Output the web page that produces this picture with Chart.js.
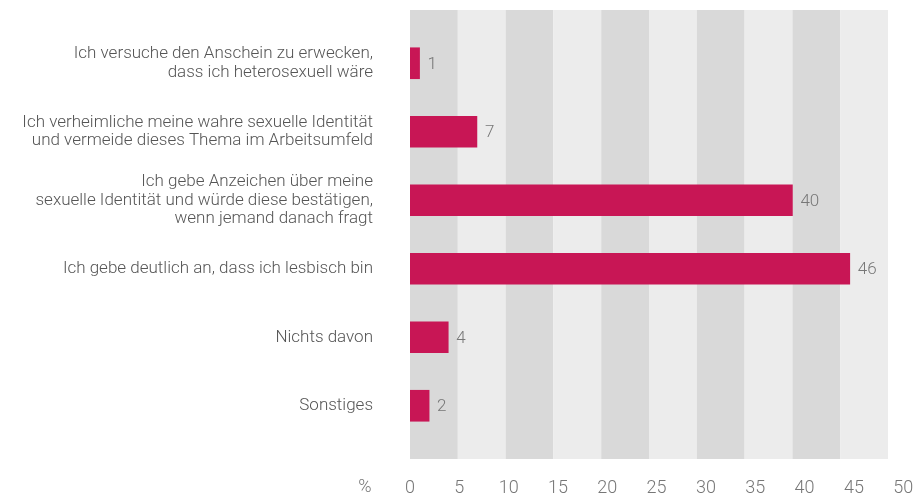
<!DOCTYPE html>
<html lang="de">
  <head>
    <meta charset="UTF-8" />
    <title>Umgang mit sexueller Identität</title>
    <script src="https://cdn.jsdelivr.net/npm/chart.js"></script>
    <style>
      html, body { margin: 0; padding: 0; background: #ffffff; }
      .chart-container { position: relative; width: 919px; height: 497px; }
    </style>
  </head>
  <body>
    <div class="chart-container">
      <canvas id="barChart"></canvas>
    </div>
    <script>
      // Daten
      var categories = [
        ["Ich versuche den Anschein zu erwecken,", "dass ich heterosexuell wäre"],
        ["Ich verheimliche meine wahre sexuelle Identität", "und vermeide dieses Thema im Arbeitsumfeld"],
        ["Ich gebe Anzeichen über meine", "sexuelle Identität und würde diese bestätigen,", "wenn jemand danach fragt"],
        "Ich gebe deutlich an, dass ich lesbisch bin",
        "Nichts davon",
        "Sonstiges"
      ];
      var values = [1, 7, 40, 46, 4, 2];
      var tickValues = [0, 5, 10, 15, 20, 25, 30, 35, 40, 45, 50];
      var unitLabel = "%";

      var FONT = "Roboto, 'Open Sans', sans-serif";

      // graue Streifen hinter den Balken (je 5 Punkte)
      var bandsPlugin = {
        id: "bands",
        beforeDatasetsDraw: function (chart) {
          var ctx = chart.ctx, x = chart.scales.x, area = chart.chartArea;
          var top = area.top - 19, bottom = area.bottom + 19;
          ctx.save();
          for (var i = 0; i < tickValues.length - 1; i++) {
            var x0 = x.getPixelForValue(tickValues[i]);
            var x1 = x.getPixelForValue(tickValues[i + 1]);
            ctx.fillStyle = i % 2 === 0 ? "#d9d9d9" : "#ececec";
            ctx.fillRect(x0, top, x1 - x0, bottom - top);
          }
          ctx.restore();
        }
      };

      // Werte rechts neben den Balken + Einheit links der Achse
      var labelsPlugin = {
        id: "valueLabels",
        afterDatasetsDraw: function (chart) {
          var ctx = chart.ctx;
          var meta = chart.getDatasetMeta(0);
          ctx.save();
          ctx.font = "300 17px " + FONT;
          ctx.fillStyle = "#777777";
          ctx.textAlign = "left";
          ctx.textBaseline = "middle";
          meta.data.forEach(function (bar, i) {
            ctx.fillText(String(values[i]), bar.x + 8, bar.y + 1);
          });
          var x2 = chart.scales.x2;
          ctx.font = "300 18px " + FONT;
          ctx.textAlign = "center";
          ctx.fillText(unitLabel, x2.getPixelForValue(0) - 45, 487);
          ctx.restore();
        }
      };

      var ctxBar = document.getElementById("barChart").getContext("2d");
      var barChart = new Chart(ctxBar, {
        type: "bar",
        data: {
          labels: categories,
          datasets: [
            {
              data: values,
              backgroundColor: "#c81655",
              barThickness: 31,
              xAxisID: "x",
              yAxisID: "y"
            }
          ]
        },
        options: {
          indexAxis: "y",
          responsive: true,
          maintainAspectRatio: false,
          animation: false,
          layout: {
            autoPadding: false,
            padding: { top: 29, left: 0, right: 0, bottom: 0 }
          },
          plugins: {
            legend: { display: false },
            tooltip: { enabled: false }
          },
          scales: {
            x: {
              display: false,
              min: 0,
              max: 53.24
            },
            x2: {
              type: "linear",
              position: "bottom",
              min: 0,
              max: 51.6,
              grid: { display: false },
              border: { display: false },
              afterBuildTicks: function (scale) {
                scale.ticks = tickValues.map(function (v) { return { value: v }; });
              },
              afterFit: function (scale) {
                scale.height = 57;
                scale.paddingLeft = 0;
                scale.paddingRight = 0;
              },
              ticks: {
                padding: 30,
                maxRotation: 0,
                autoSkip: false,
                color: "#777777",
                font: { family: FONT, size: 18, weight: "300" }
              }
            },
            y: {
              grid: { display: false },
              border: { display: false },
              afterFit: function (scale) {
                scale.width = 410;
                scale.paddingTop = 0;
                scale.paddingBottom = 0;
              },
              ticks: {
                padding: 29,
                color: "#555555",
                font: { family: FONT, size: 17, weight: "300", lineHeight: 1.1 }
              }
            }
          }
        },
        plugins: [bandsPlugin, labelsPlugin]
      });
    </script>
  </body>
</html>
